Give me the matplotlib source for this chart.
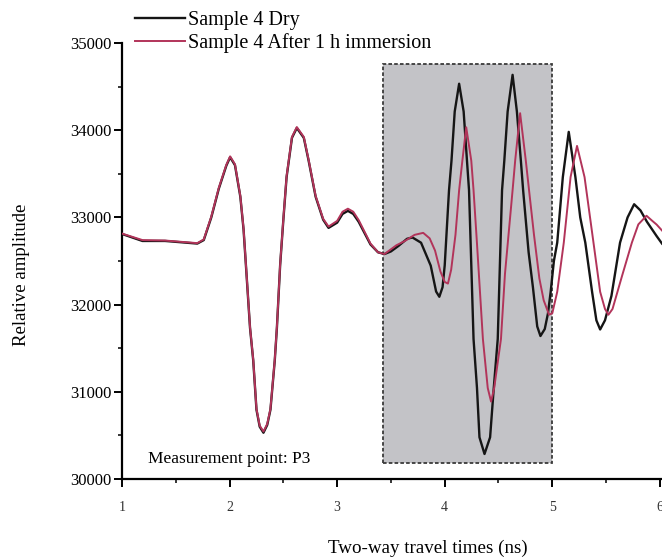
import matplotlib
matplotlib.use('Agg')
import matplotlib.pyplot as plt
from matplotlib.patches import Rectangle
from matplotlib.ticker import MultipleLocator

plt.rcParams['font.family'] = ['Liberation Serif', 'DejaVu Serif']

# travel time (ns) / amplitude
t_dry = [1.00, 1.19, 1.40, 1.60, 1.70, 1.76, 1.83, 1.90, 1.97, 2.005, 2.05, 2.10, 2.13,
         2.16, 2.19, 2.22, 2.25, 2.28, 2.315, 2.35, 2.38, 2.42, 2.44, 2.47, 2.50, 2.53,
         2.58, 2.625, 2.69, 2.735, 2.80, 2.87, 2.92, 3.00, 3.05, 3.10, 3.15, 3.20, 3.31,
         3.38, 3.44, 3.50, 3.57, 3.65, 3.70, 3.78, 3.87, 3.92, 3.95, 3.98, 4.00, 4.04,
         4.063, 4.093, 4.134, 4.176, 4.207, 4.226, 4.268, 4.30, 4.323, 4.37, 4.422, 4.456,
         4.493, 4.533, 4.554, 4.585, 4.631, 4.671, 4.708, 4.729, 4.78, 4.82, 4.86, 4.89,
         4.93, 4.96, 4.985, 5.015, 5.046, 5.098, 5.153, 5.215, 5.26, 5.307, 5.37, 5.41,
         5.445, 5.49, 5.55, 5.63, 5.70, 5.761, 5.82, 5.88, 5.97, 6.02]
a_dry = [32810, 32730, 32730, 32710, 32700, 32740, 33000, 33330, 33594, 33690, 33600,
         33237, 32861, 32300, 31734, 31358, 30795, 30600, 30531, 30620, 30795, 31358,
         31734, 32450, 32974, 33462, 33913, 34026, 33913, 33650, 33237, 32974, 32880,
         32940, 33040, 33075, 33040, 32950, 32690, 32600, 32580, 32610, 32673, 32755,
         32770, 32710, 32447, 32150, 32090, 32200, 32450, 33312, 33650, 34214, 34533,
         34214, 33650, 33312, 31606, 31044, 30479, 30287, 30479, 31044, 31606, 33312,
         33650, 34214, 34635, 34214, 33650, 33312, 32600, 32200, 31750, 31640, 31720,
         31900, 32147, 32500, 32711, 33462, 33981, 33462, 33000, 32711, 32147, 31820,
         31715, 31820, 32100, 32711, 33000, 33151, 33080, 32950, 32786, 32700]

t_wet = [1.00, 1.19, 1.40, 1.60, 1.70, 1.76, 1.83, 1.90, 1.97, 2.005, 2.05, 2.10, 2.13,
         2.16, 2.19, 2.22, 2.25, 2.28, 2.315, 2.35, 2.38, 2.42, 2.44, 2.47, 2.50, 2.53,
         2.58, 2.625, 2.69, 2.735, 2.80, 2.87, 2.92, 3.00, 3.05, 3.10, 3.15, 3.20, 3.31,
         3.38, 3.44, 3.55, 3.63, 3.72, 3.80, 3.86, 3.91, 3.96, 4.00, 4.03, 4.06, 4.10,
         4.134, 4.164, 4.20, 4.247, 4.268, 4.30, 4.355, 4.40, 4.431, 4.46, 4.523, 4.56,
         4.631, 4.655, 4.701, 4.754, 4.784, 4.83, 4.88, 4.92, 4.97, 5.00, 5.046, 5.107,
         5.17, 5.23, 5.30, 5.383, 5.445, 5.49, 5.522, 5.56, 5.65, 5.74, 5.80, 5.876,
         5.93, 5.97, 6.02]
a_wet = [32815, 32740, 32735, 32715, 32705, 32748, 33010, 33340, 33604, 33700, 33610,
         33247, 32871, 32310, 31744, 31368, 30805, 30612, 30545, 30632, 30805, 31368,
         31744, 32460, 32984, 33472, 33923, 34036, 33923, 33660, 33247, 32984, 32895,
         32960, 33065, 33100, 33065, 32970, 32700, 32600, 32580, 32680, 32730, 32800,
         32823, 32760, 32620, 32380, 32260, 32241, 32400, 32800, 33312, 33650, 34034,
         33650, 33312, 32700, 31606, 31044, 30888, 31044, 31606, 32350, 33312, 33650,
         34195, 33650, 33312, 32800, 32300, 32050, 31884, 31900, 32147, 32711, 33462,
         33820, 33462, 32711, 32147, 31950, 31884, 31950, 32335, 32711, 32920, 33019,
         32960, 32918, 32850]

fig = plt.figure(figsize=(6.62, 5.6), dpi=100)
ax = fig.add_axes([0.1843, 0.1446, 0.8157, 0.7786])

ax.add_patch(Rectangle((3.43, 30180), 1.57, 4580, facecolor='#c3c3c7',
                       edgecolor='#3a3a3a', linestyle=(0, (2, 1.2)), linewidth=1.3, zorder=1))

ax.plot(t_dry, a_dry, color='#151515', lw=1.7, label='Sample 4 Dry', zorder=3)
ax.plot(t_wet, a_wet, color='#b2345a', lw=1.4, label='Sample 4 After 1 h immersion', zorder=3)

ax.text(1.24, 30230, 'Measurement point: P3', fontsize=12.5, va='center', ha='left')

ax.set_xlim(1, 6.02)
ax.set_ylim(30000, 35000)
ax.xaxis.set_major_locator(MultipleLocator(1))
ax.xaxis.set_minor_locator(MultipleLocator(0.5))
ax.yaxis.set_major_locator(MultipleLocator(1000))
ax.yaxis.set_minor_locator(MultipleLocator(500))
for s in ['top', 'right']:
    ax.spines[s].set_visible(False)
for s in ['left', 'bottom']:
    ax.spines[s].set_linewidth(1.6)
ax.tick_params(axis='both', which='major', direction='out', length=6, width=1.4)
ax.tick_params(axis='both', which='minor', direction='out', length=3, width=1.1)
ax.tick_params(axis='x', which='major', pad=10, labelsize=10, labelcolor='#333333')
ax.tick_params(axis='y', which='major', pad=1.5, labelsize=12)

fig.text(0.646, 0.021, 'Two-way travel times (ns)', fontsize=13.7, ha='center', va='center')
fig.text(0.033, 0.509, 'Relative amplitude', fontsize=13.5, rotation=90, ha='center', va='center')

fig.legend(loc='upper left', bbox_to_anchor=(135 / 662, 1 - 11 / 560), frameon=False,
           fontsize=14.5, handlelength=2.5, handletextpad=0.15, labelspacing=0.15,
           borderpad=0, borderaxespad=0)

fig.savefig('out.png', dpi=100)
